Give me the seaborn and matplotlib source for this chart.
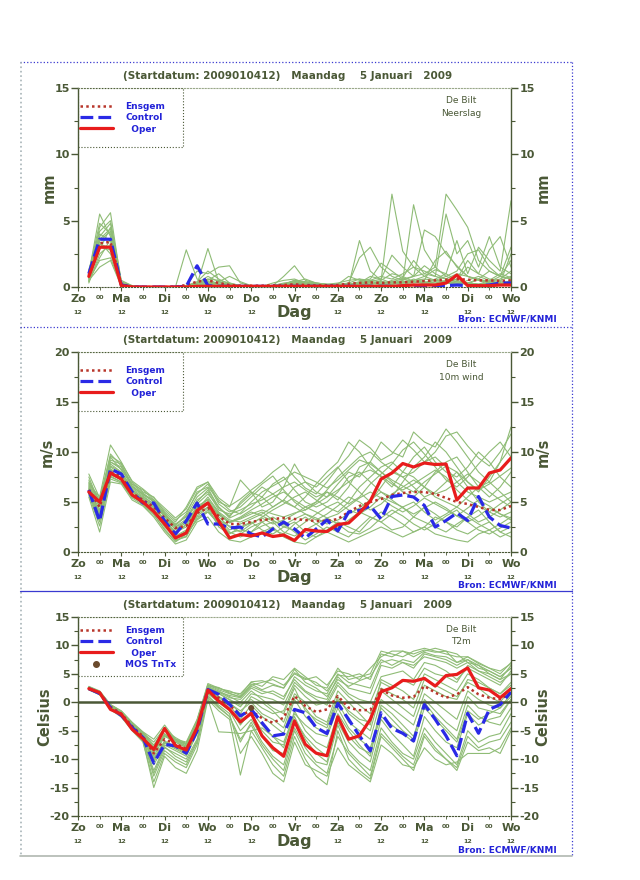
import matplotlib
matplotlib.use('Agg')
import matplotlib.pyplot as plt
import seaborn as sns
import pandas as pd
from matplotlib.lines import Line2D
from matplotlib.patches import Rectangle
from matplotlib.ticker import MultipleLocator, FixedLocator

# ---------------- data ----------------
hours = list(range(6, 241, 6))
day_hours = list(range(0, 241, 24))
day_names = ['Zo', 'Ma', 'Di', 'Wo', 'Do', 'Vr', 'Za', 'Zo', 'Ma', 'Di', 'Wo']
noon_hours = [0, 24, 48, 72, 96, 144, 168, 192, 216, 240]
night_hours = list(range(12, 240, 24))
night_label = '00'
noon_label = '12'

title_text = '(Startdatum: 2009010412)   Maandag    5 Januari   2009'
station = 'De Bilt'
source_text = 'Bron: ECMWF/KNMI'
x_label = 'Dag'

# Precipitation (mm)
precip_oper = [0.8, 3.0, 3.0, 0.1, 0, 0, 0, 0, 0, 0,
               0.05, 0.05, 0.05, 0.05, 0.05, 0.05, 0.05, 0.05, 0.05, 0.05,
               0.05, 0.05, 0.05, 0.05, 0.05, 0.05, 0.05, 0.05, 0.05, 0.1,
               0.15, 0.15, 0.15, 0.3, 0.9, 0.1, 0.1, 0.1, 0.15, 0.15]
precip_control = [1.0, 3.6, 3.6, 0.15, 0, 0, 0, 0, 0, 0.05,
                  1.6, 0.1, 0.05, 0.05, 0.05, 0.05, 0.05, 0.05, 0.05, 0.05,
                  0.05, 0.05, 0.05, 0.05, 0.05, 0.05, 0.05, 0.05, 0.05, 0.05,
                  0.1, 0.1, 0.1, 0.1, 0.15, 0.1, 0.1, 0.15, 0.3, 0.3]
precip_ensgem = [0.9, 3.3, 3.4, 0.2, 0.02, 0, 0, 0, 0.02, 0.15,
                 0.4, 0.5, 0.3, 0.15, 0.1, 0.1, 0.1, 0.12, 0.15, 0.2,
                 0.15, 0.12, 0.12, 0.15, 0.25, 0.3, 0.35, 0.3, 0.35, 0.35,
                 0.4, 0.45, 0.5, 0.55, 0.6, 0.55, 0.5, 0.5, 0.45, 0.5]
precip_members = [
    [0.6, 4.5, 5.6, 0.3, 0, 0, 0, 0, 0, 0.1, 0.2, 2.9, 0.4, 0.2, 0.1, 0.05, 0.05, 0.05, 0.05, 0.1,
     0.1, 0.1, 0.1, 0.1, 0.1, 3.5, 1.2, 0.5, 7.0, 2.7, 1.5, 0.8, 0.5, 0.4, 0.3, 0.2, 0.6, 0.3, 0.2, 0.5],
    [1.0, 5.5, 3.8, 0.2, 0, 0, 0, 0, 0, 2.8, 0.6, 0.3, 0.2, 0.1, 0.1, 0.05, 0.05, 0.3, 0.5, 0.6,
     0.3, 0.2, 0.1, 0.2, 0.3, 2.2, 3.0, 1.5, 0.8, 0.5, 6.2, 2.8, 1.5, 0.8, 0.5, 0.3, 0.2, 0.1, 0.3, 2.5],
    [0.3, 2.5, 3.2, 0.1, 0, 0, 0, 0, 0, 0.1, 1.2, 1.0, 1.5, 1.6, 0.3, 0.1, 0.1, 0.1, 0.8, 1.6,
     0.5, 0.3, 0.2, 0.2, 0.8, 0.5, 0.4, 0.6, 2.4, 1.5, 0.8, 4.3, 3.8, 2.5, 1.6, 0.8, 0.5, 0.3, 0.2, 0.4],
    [0.8, 3.8, 4.8, 0.3, 0, 0, 0, 0, 0, 0.05, 0.3, 0.8, 0.4, 0.1, 0.05, 0.05, 0.05, 0.1, 0.2, 0.5,
     0.4, 0.2, 0.1, 0.1, 0.1, 0.2, 0.2, 0.3, 0.4, 0.6, 0.8, 1.0, 1.5, 7.0, 5.8, 4.5, 2.0, 1.2, 0.8, 0.6],
    [0.5, 2.0, 2.2, 0.1, 0, 0, 0, 0, 0, 0, 0.05, 0.1, 0.05, 0.05, 0.05, 0.05, 0.05, 0.05, 0.1, 0.1,
     0.1, 0.05, 0.05, 0.1, 0.2, 0.4, 0.6, 1.8, 1.2, 0.6, 0.4, 0.3, 0.6, 1.0, 3.5, 1.0, 3.0, 2.0, 1.2, 6.5],
    [1.2, 3.5, 4.2, 0.2, 0, 0, 0, 0, 0, 0.1, 0.2, 0.5, 1.0, 0.3, 0.1, 0.05, 0.1, 0.1, 0.2, 0.3,
     0.2, 0.2, 0.2, 0.3, 0.5, 0.6, 0.3, 0.2, 0.5, 0.7, 2.0, 1.0, 0.8, 5.5, 2.5, 3.5, 1.5, 3.8, 1.5, 1.0],
    [0.4, 3.0, 2.8, 0.2, 0, 0, 0, 0, 0, 0.05, 0.3, 0.6, 0.2, 0.1, 0.05, 0.05, 0.05, 0.1, 0.3, 0.4,
     0.3, 0.2, 0.1, 0.1, 0.2, 0.3, 0.8, 0.6, 0.3, 0.3, 0.5, 0.8, 1.3, 1.0, 0.5, 1.5, 1.0, 2.8, 3.8, 1.5],
    [0.9, 4.0, 3.5, 0.1, 0, 0, 0, 0, 0, 0, 0.1, 0.3, 0.1, 0.05, 0.05, 0.05, 0.05, 0.05, 0.1, 0.2,
     0.1, 0.1, 0.05, 0.1, 0.1, 0.2, 0.1, 0.2, 0.2, 0.4, 0.3, 0.5, 2.0, 2.7, 1.5, 0.8, 0.6, 0.4, 0.8, 3.0],
    [0.7, 2.8, 4.5, 0.4, 0.1, 0, 0, 0, 0, 0, 0.1, 0.4, 0.2, 0.1, 0.05, 0.05, 0.05, 0.05, 0.1, 0.2,
     0.2, 0.1, 0.1, 0.1, 0.1, 0.1, 0.2, 0.4, 0.3, 0.2, 0.1, 0.3, 0.2, 0.3, 0.6, 2.0, 1.0, 0.6, 0.5, 0.8],
    [0.6, 3.4, 2.5, 0.1, 0, 0, 0, 0, 0, 0, 0.1, 0.2, 0.4, 0.8, 0.4, 0.1, 0.05, 0.05, 0.1, 0.3,
     0.4, 0.3, 0.2, 0.1, 0.1, 0.1, 0.1, 0.1, 0.2, 0.3, 0.2, 0.2, 0.4, 0.3, 0.2, 0.5, 0.8, 0.5, 0.3, 0.4],
    [0.5, 1.5, 2.0, 0.05, 0, 0, 0, 0, 0, 0, 0, 0.05, 0.05, 0, 0, 0, 0, 0.05, 0.1, 0.2,
     0.1, 0.05, 0.05, 0.05, 0.05, 0.1, 0.1, 0.1, 0.1, 0.1, 0.1, 0.1, 0.2, 0.3, 0.2, 0.3, 0.2, 0.3, 0.2, 0.3],
    [1.3, 4.2, 5.0, 0.5, 0.1, 0, 0, 0, 0, 0.1, 0.3, 0.6, 0.5, 0.3, 0.1, 0.05, 0.05, 0.1, 0.2, 0.3,
     0.2, 0.1, 0.1, 0.1, 0.2, 0.3, 0.4, 0.3, 0.2, 0.4, 0.5, 0.6, 0.5, 0.4, 0.3, 0.3, 0.2, 0.3, 0.4, 0.3],
    [0.7, 3.2, 3.0, 0.2, 0, 0, 0, 0, 0, 0, 0.05, 0.2, 0.3, 0.2, 0.05, 0.05, 0.05, 0.1, 0.2, 0.5,
     0.3, 0.2, 0.1, 0.1, 0.3, 0.6, 0.5, 0.8, 0.6, 1.0, 1.5, 1.2, 0.8, 0.6, 1.0, 0.8, 0.5, 0.4, 0.6, 1.2],
    [1.1, 4.8, 4.0, 0.3, 0.05, 0, 0, 0, 0, 0.1, 0.4, 1.2, 0.6, 0.2, 0.1, 0.05, 0.05, 0.1, 0.2, 0.4,
     0.6, 0.3, 0.2, 0.2, 0.2, 0.3, 0.2, 0.5, 1.0, 0.8, 0.4, 0.3, 0.5, 0.8, 1.2, 2.5, 2.8, 1.5, 0.8, 0.6],
    [0.4, 2.2, 3.6, 0.2, 0, 0, 0, 0, 0, 0, 0.1, 0.2, 0.1, 0.05, 0.05, 0.05, 0.05, 0.05, 0.1, 0.1,
     0.1, 0.1, 0.05, 0.1, 0.2, 0.3, 0.5, 0.4, 0.3, 0.5, 0.8, 1.6, 1.0, 0.6, 0.4, 0.3, 0.6, 1.2, 0.8, 2.0],
    [0.9, 3.6, 4.4, 0.3, 0, 0, 0, 0, 0, 0.05, 0.2, 0.4, 0.2, 0.1, 0.05, 0.05, 0.05, 0.1, 0.2, 0.3,
     0.2, 0.1, 0.1, 0.1, 0.1, 0.2, 0.3, 0.2, 0.4, 0.3, 0.6, 0.4, 0.3, 0.5, 0.4, 0.3, 0.2, 0.5, 1.0, 0.7],
]

# 10 m wind (m/s)
wind_oper = [6.0, 5.0, 7.9, 7.3, 5.7, 5.0, 4.05, 2.8, 1.4, 1.9,
             4.15, 4.9, 3.1, 1.4, 1.75, 1.6, 1.9, 1.55, 1.7, 1.15,
             2.25, 2.1, 2.05, 2.75, 2.9, 3.9, 5.1, 7.3, 7.9, 8.85,
             8.5, 8.9, 8.75, 8.8, 5.2, 6.4, 6.4, 7.9, 8.2, 9.4]
wind_control = [6.2, 3.1, 8.3, 7.8, 6.0, 4.9, 4.9, 3.1, 1.8, 3.1,
                4.9, 2.8, 2.8, 2.4, 2.5, 1.8, 1.5, 2.3, 3.0, 2.3,
                1.4, 2.3, 3.2, 2.1, 4.0, 4.15, 4.6, 3.3, 5.55, 5.7,
                5.5, 4.65, 2.5, 3.15, 3.9, 3.15, 5.55, 3.5, 2.65, 2.4]
wind_ensgem = [6.2, 4.5, 8.0, 7.6, 5.9, 5.2, 4.5, 3.4, 2.4, 2.6,
               3.9, 4.4, 3.6, 2.8, 2.8, 3.0, 3.2, 3.3, 3.4, 3.3,
               3.2, 3.1, 3.1, 3.3, 4.0, 4.6, 5.0, 5.3, 5.7, 5.9,
               6.0, 6.0, 5.8, 5.4, 5.0, 4.8, 4.5, 4.2, 4.2, 4.6]
wind_members = [
    [6.5, 4.5, 8.5, 7.8, 6.2, 5.5, 4.8, 3.5, 2.5, 3.0, 4.5, 5.0, 3.8, 3.0, 3.5, 4.2, 4.8, 5.5, 6.0, 5.2,
     4.5, 5.0, 6.2, 7.5, 8.5, 9.5, 10.0, 9.0, 8.2, 7.5, 8.0, 9.0, 9.5, 8.5, 7.0, 6.0, 5.5, 5.0, 5.5, 6.0],
    [5.8, 3.0, 7.5, 7.0, 5.5, 5.0, 4.0, 2.5, 1.5, 2.0, 3.8, 4.5, 2.5, 1.8, 2.5, 3.0, 2.2, 1.8, 2.5, 3.0,
     2.0, 1.5, 2.2, 3.0, 2.5, 2.0, 3.2, 4.0, 3.5, 2.8, 2.0, 2.5, 3.5, 3.0, 2.2, 1.8, 2.5, 3.0, 2.0, 2.5],
    [7.0, 5.2, 9.0, 8.5, 6.5, 5.8, 5.0, 3.8, 2.8, 3.5, 5.0, 6.2, 4.5, 3.5, 5.0, 6.0, 5.5, 4.5, 5.2, 6.5,
     7.0, 6.0, 5.5, 6.8, 8.0, 7.5, 9.0, 11.0, 10.0, 9.5, 12.0, 11.0, 10.5, 12.3, 11.0, 9.5, 8.0, 7.0, 9.0, 12.5],
    [6.0, 3.5, 8.0, 7.5, 5.8, 5.0, 4.2, 3.0, 1.2, 1.5, 3.5, 4.0, 3.0, 2.0, 1.5, 2.0, 3.0, 3.5, 2.8, 2.0,
     1.2, 1.8, 2.5, 2.0, 1.5, 2.5, 3.5, 3.0, 2.2, 2.5, 3.5, 4.5, 3.8, 3.0, 2.5, 3.5, 4.2, 3.0, 2.0, 1.5],
    [6.8, 5.5, 10.7, 9.0, 7.0, 6.0, 5.5, 4.0, 3.0, 4.5, 6.5, 7.0, 5.0, 4.5, 7.2, 6.0, 4.5, 5.0, 6.5, 8.8,
     7.0, 6.5, 7.5, 8.5, 7.0, 6.0, 5.0, 6.5, 8.0, 7.5, 6.5, 5.5, 6.0, 7.0, 8.0, 6.5, 5.0, 4.0, 3.5, 4.0],
    [6.2, 4.0, 7.8, 7.2, 6.0, 5.2, 4.5, 3.2, 2.0, 2.5, 4.2, 5.5, 4.0, 3.2, 3.0, 3.5, 4.0, 3.2, 2.5, 2.2,
     3.0, 3.8, 4.5, 4.0, 5.0, 6.5, 7.5, 8.5, 9.0, 8.0, 7.5, 6.5, 5.5, 5.0, 4.5, 5.5, 6.5, 7.0, 6.0, 5.0],
    [5.5, 2.0, 7.0, 6.8, 5.2, 4.6, 3.5, 2.0, 0.8, 1.2, 3.0, 3.5, 2.0, 1.2, 1.0, 1.5, 2.0, 2.5, 1.5, 1.0,
     0.8, 1.5, 2.0, 1.5, 1.0, 1.5, 2.0, 2.5, 2.0, 1.5, 2.0, 2.5, 1.8, 1.5, 1.2, 1.0, 1.8, 2.2, 1.5, 2.0],
    [7.5, 4.8, 9.5, 8.2, 6.8, 6.2, 5.2, 4.2, 3.2, 4.0, 5.8, 6.8, 4.8, 4.0, 4.5, 5.5, 6.5, 5.8, 5.0, 4.5,
     5.5, 6.8, 8.0, 9.0, 11.0, 10.0, 8.5, 7.5, 6.5, 8.0, 9.5, 10.5, 9.0, 8.0, 7.5, 8.5, 10.0, 9.0, 7.5, 6.5],
    [6.3, 3.8, 8.2, 7.8, 6.0, 5.4, 4.6, 3.0, 1.8, 2.8, 4.6, 5.2, 3.5, 2.5, 2.0, 2.8, 3.5, 4.2, 4.8, 5.5,
     6.0, 5.2, 4.5, 5.0, 4.2, 3.8, 4.5, 5.5, 5.0, 4.5, 5.0, 4.0, 3.2, 3.8, 4.5, 3.8, 3.0, 3.5, 4.2, 5.0],
    [6.6, 4.6, 8.8, 8.0, 6.4, 5.6, 4.8, 3.6, 2.2, 3.2, 5.2, 6.0, 4.2, 3.8, 4.2, 4.8, 5.2, 5.8, 6.5, 7.0,
     6.2, 5.5, 6.0, 5.2, 6.5, 8.5, 9.0, 8.0, 7.0, 6.0, 5.5, 6.5, 8.0, 9.0, 9.5, 8.0, 6.5, 5.5, 6.5, 8.0],
    [5.9, 3.2, 7.6, 7.0, 5.6, 4.8, 3.8, 2.2, 1.0, 1.8, 3.2, 4.0, 2.8, 1.5, 1.8, 2.5, 3.0, 2.2, 1.8, 2.8,
     3.5, 2.8, 2.0, 2.5, 3.2, 4.0, 3.5, 3.0, 3.8, 4.5, 3.5, 3.0, 2.5, 2.0, 2.8, 3.5, 2.8, 2.2, 2.8, 3.5],
    [7.2, 5.0, 9.2, 8.8, 6.6, 5.8, 5.2, 3.9, 2.6, 3.8, 6.0, 6.5, 5.2, 4.2, 3.8, 4.5, 5.5, 6.8, 7.5, 6.2,
     5.0, 4.5, 5.0, 6.0, 7.5, 8.0, 7.0, 6.0, 5.5, 7.0, 8.5, 9.5, 11.0, 10.0, 8.5, 7.0, 6.0, 7.5, 9.0, 10.5],
    [6.4, 4.2, 8.6, 8.0, 6.3, 5.3, 4.4, 3.3, 2.3, 2.9, 4.4, 5.3, 3.9, 3.0, 3.3, 3.8, 4.2, 3.8, 3.5, 3.9,
     4.2, 4.8, 5.5, 6.2, 7.0, 7.8, 8.2, 7.6, 6.8, 6.2, 6.8, 7.5, 8.2, 7.5, 6.2, 5.2, 4.6, 4.0, 4.8, 5.5],
    [6.1, 3.6, 7.9, 7.4, 5.8, 5.1, 4.3, 2.8, 1.6, 2.2, 3.9, 4.8, 3.3, 2.2, 2.8, 3.3, 3.8, 4.5, 5.2, 4.5,
     3.8, 3.2, 3.8, 4.6, 5.5, 5.0, 4.2, 4.8, 5.8, 6.5, 7.2, 6.5, 5.8, 6.2, 7.0, 7.8, 7.0, 6.0, 5.2, 4.5],
    [6.9, 5.0, 9.8, 8.6, 6.8, 5.9, 5.0, 3.7, 2.7, 3.6, 5.5, 6.4, 4.4, 3.6, 4.8, 5.8, 6.8, 7.6, 6.2, 5.0,
     4.2, 5.0, 6.0, 5.5, 4.8, 5.5, 6.8, 7.8, 8.8, 10.2, 11.0, 9.8, 8.5, 7.2, 6.5, 7.5, 8.8, 10.0, 11.0, 9.5],
    [5.7, 2.6, 7.3, 6.9, 5.4, 4.7, 3.7, 2.3, 1.1, 1.6, 3.3, 4.2, 2.7, 1.9, 2.2, 2.0, 2.6, 3.0, 2.0, 1.6,
     2.2, 2.8, 3.4, 2.8, 2.0, 1.8, 2.4, 3.4, 4.2, 3.6, 2.8, 2.2, 2.8, 3.6, 4.2, 3.0, 2.2, 1.8, 2.4, 3.0],
    [6.7, 4.9, 9.0, 8.3, 6.6, 5.7, 5.1, 3.7, 2.5, 3.3, 4.8, 5.8, 4.5, 3.4, 3.9, 5.0, 6.0, 6.6, 7.2, 8.0,
     7.5, 7.0, 6.4, 7.2, 8.2, 9.2, 8.8, 8.0, 7.2, 6.6, 6.0, 7.0, 7.8, 8.6, 8.0, 7.0, 6.2, 6.8, 7.6, 8.4],
    [6.0, 3.3, 7.7, 7.3, 5.7, 5.0, 4.1, 2.7, 1.4, 2.1, 3.6, 4.4, 3.2, 2.6, 2.4, 2.9, 3.4, 2.8, 3.2, 3.8,
     4.5, 4.0, 3.4, 3.8, 4.6, 5.4, 6.0, 5.4, 4.6, 4.0, 4.6, 5.4, 4.8, 4.2, 3.6, 4.4, 5.2, 4.6, 3.8, 3.2],
    [7.8, 5.4, 9.6, 8.9, 7.1, 6.3, 5.4, 4.4, 3.4, 4.3, 6.3, 7.0, 5.4, 4.6, 5.3, 6.2, 7.0, 8.0, 8.8, 7.5,
     6.4, 5.8, 7.0, 8.4, 9.6, 11.2, 10.4, 9.2, 9.8, 11.2, 10.2, 9.0, 10.0, 11.6, 12.0, 10.6, 9.4, 8.6, 10.0, 11.8],
    [6.3, 3.9, 8.3, 7.7, 6.1, 5.3, 4.7, 3.1, 1.9, 2.7, 4.3, 5.0, 3.7, 2.9, 3.4, 4.0, 3.6, 3.1, 2.7, 3.3,
     3.8, 3.4, 2.8, 3.2, 3.8, 4.4, 5.2, 6.0, 5.2, 4.4, 3.8, 4.4, 5.0, 4.4, 3.6, 3.0, 3.6, 4.4, 3.8, 3.4],
]

# 2 m temperature (Celsius)
t2m_oper = [2.4, 1.7, -1.25, -2.1, -4.75, -6.4, -8.3, -4.6, -7.6, -8.4,
            -4.45, 2.15, 0.2, -1.25, -3.45, -1.95, -5.9, -8.0, -9.5, -3.3,
            -7.4, -8.95, -9.4, -2.55, -6.5, -5.9, -3.0, 1.85, 2.55, 3.85,
            3.7, 4.2, 2.85, 4.7, 4.9, 6.05, 2.55, 2.15, 0.8, 2.4]
t2m_control = [2.4, 1.55, -0.95, -2.3, -4.45, -6.2, -10.7, -7.4, -7.65, -8.95,
               -5.05, 2.25, 1.4, -0.35, -2.4, -1.25, -3.6, -5.9, -5.6, -1.25,
               -1.85, -4.45, -5.5, -0.2, -3.0, -5.9, -8.55, -1.85, -4.6, -5.45,
               -6.8, -0.4, -3.0, -5.9, -9.4, -1.95, -5.45, -1.25, -0.4, 1.8]
t2m_ensgem = [2.4, 1.6, -0.8, -2.0, -4.2, -6.0, -9.0, -6.5, -7.3, -8.2,
              -4.8, 1.8, 0.8, -0.5, -2.3, -1.5, -2.8, -3.6, -2.7, 1.1,
              -0.65, -1.7, -1.25, 1.1, -0.95, -1.4, -1.35, 2.25, 1.2, 0.8,
              0.95, 2.85, 1.7, 0.8, 1.4, 2.65, 1.4, 0.8, 0.5, 1.7]
t2m_members = [
    [2.8, 2.0, -0.4, -1.5, -3.5, -5.2, -6.5, -4.0, -6.5, -7.0, -3.0, 3.3, 2.5, 1.8, 1.5, 3.5, 2.8, 4.5, 4.0, 6.0,
     4.5, 3.0, 2.5, 6.0, 4.0, 4.5, 5.0, 9.0, 8.5, 8.0, 9.0, 9.5, 9.0, 8.5, 8.0, 8.0, 7.0, 6.0, 5.0, 7.0],
    [2.2, 1.4, -1.2, -2.5, -4.8, -6.8, -15.0, -9.5, -11.5, -12.5, -8.5, 0.5, -1.5, -3.0, -12.8, -5.0, -8.0, -11.0, -13.0, -6.0,
     -10.0, -13.0, -14.5, -5.0, -10.0, -12.0, -13.5, -6.0, -8.0, -10.0, -12.0, -6.0, -8.5, -10.0, -12.0, -7.0, -8.5, -8.0, -9.0, -5.0],
    [2.5, 1.6, -0.8, -2.0, -4.0, -5.8, -9.5, -6.0, -7.0, -8.0, -4.0, 2.5, 1.5, 0.5, -0.5, 0.5, -1.0, -2.0, -1.5, 3.0,
     1.0, -0.5, 0.0, 3.5, 1.5, 0.5, 0.0, 4.5, 5.0, 5.5, 4.0, 7.0, 6.5, 5.5, 4.0, 6.0, 5.0, 4.0, 3.0, 5.5],
    [2.3, 1.5, -1.0, -2.2, -4.5, -6.5, -12.5, -8.0, -9.0, -10.0, -6.5, 1.5, 0.0, -1.5, -5.0, -3.0, -6.0, -8.5, -9.0, -3.0,
     -6.0, -8.0, -9.5, -3.5, -7.0, -9.0, -10.5, -3.0, -5.5, -7.5, -9.5, -2.5, -5.0, -7.0, -8.0, -2.0, -4.0, -3.0, -2.5, 0.5],
    [2.6, 1.7, -0.6, -1.8, -3.8, -5.5, -8.0, -5.0, -6.5, -7.5, -3.5, 2.8, 2.0, 1.0, 0.0, 2.0, 0.5, -1.0, -2.0, 2.5,
     -1.5, -3.0, -4.0, 1.0, -2.0, -3.5, -5.0, 2.0, 0.5, -1.0, -2.5, 3.0, 2.0, 1.0, 0.5, 4.0, 3.5, 2.5, 1.5, 3.5],
    [2.4, 1.5, -0.9, -2.3, -4.4, -6.0, -10.0, -7.0, -8.0, -9.0, -5.0, 0.5, -5.2, -5.3, -5.5, -5.0, -4.5, -6.0, -7.0, -2.0,
     -4.0, -5.5, -6.0, -1.0, -4.5, -6.5, -8.0, -2.5, -4.0, -5.5, -7.0, -1.0, -3.0, -5.0, -7.0, -1.5, -3.0, -2.0, -1.0, 1.0],
    [2.7, 1.9, -0.5, -1.6, -3.6, -5.4, -7.0, -4.5, -6.8, -7.2, -3.2, 3.0, 2.2, 1.5, 1.0, 3.0, 3.5, 4.0, 3.0, 5.0,
     4.0, 4.5, 3.0, 5.5, 5.0, 4.0, 6.0, 8.0, 9.0, 9.0, 8.0, 9.0, 9.5, 9.0, 7.0, 7.5, 6.0, 5.5, 4.5, 6.0],
    [2.3, 1.4, -1.1, -2.4, -4.6, -6.6, -13.0, -8.5, -10.0, -11.0, -7.0, 1.0, -0.5, -2.0, -9.0, -6.0, -9.0, -12.5, -14.0, -7.0,
     -11.0, -12.0, -13.0, -8.0, -11.0, -12.5, -14.0, -7.5, -9.0, -11.0, -11.5, -8.0, -10.0, -11.0, -10.5, -9.0, -9.0, -9.0, -8.0, -4.5],
    [2.5, 1.7, -0.7, -1.9, -4.0, -5.6, -9.0, -5.5, -7.5, -8.5, -4.5, 2.5, 1.0, 0.0, -2.0, 1.0, 0.0, -1.5, -3.5, 1.5,
     0.0, -2.5, -3.5, 2.0, 0.0, -2.0, -4.0, 4.0, 3.0, 2.0, 0.5, 5.0, 4.0, 3.0, 2.0, 5.0, 4.0, 2.5, 1.5, 3.0],
    [2.4, 1.6, -0.9, -2.1, -4.3, -6.1, -11.0, -7.5, -8.5, -9.5, -5.5, 1.8, 0.5, -1.0, -4.0, -1.5, -4.0, -6.0, -8.0, -1.5,
     -5.0, -7.0, -8.0, -2.0, -5.0, -7.5, -9.5, -1.0, -3.0, -5.0, -6.5, 0.5, -1.5, -3.5, -5.0, 1.0, -1.0, -1.5, -2.0, 0.5],
    [2.6, 1.8, -0.6, -1.7, -3.9, -5.7, -8.5, -6.0, -6.5, -7.8, -4.2, 2.6, 1.8, 0.8, 0.5, 2.5, 1.5, 2.0, 1.0, 4.0,
     2.0, 1.0, 0.5, 4.5, 2.5, 2.0, 1.5, 6.5, 6.0, 7.0, 6.5, 8.0, 7.5, 7.0, 6.0, 7.0, 5.5, 5.0, 4.0, 6.5],
    [2.2, 1.3, -1.3, -2.6, -5.0, -7.0, -14.0, -9.0, -10.5, -11.5, -7.5, 0.8, -1.0, -2.5, -7.0, -3.5, -7.0, -9.5, -11.0, -4.5,
     -8.0, -10.5, -11.0, -4.0, -8.5, -10.5, -12.0, -4.5, -7.0, -9.0, -10.0, -4.5, -7.0, -9.0, -11.0, -5.0, -7.0, -6.0, -5.5, -2.0],
    [2.5, 1.6, -0.7, -1.9, -4.1, -5.9, -8.8, -5.8, -7.0, -7.9, -4.3, 2.4, 1.8, 1.2, 0.8, 2.8, 2.0, 1.5, 0.5, 4.5,
     3.0, 2.0, 1.5, 5.0, 3.5, 3.0, 2.5, 7.0, 7.5, 7.0, 6.0, 8.5, 8.0, 7.5, 6.5, 7.5, 6.5, 5.5, 4.5, 6.0],
    [2.4, 1.6, -0.8, -2.0, -4.2, -6.0, -9.8, -6.8, -7.8, -8.8, -5.0, 2.0, 0.8, -0.5, -3.0, -0.5, -2.5, -4.0, -5.5, 0.5,
     -2.5, -4.5, -5.5, 0.0, -3.5, -5.0, -6.5, 0.5, -1.0, -2.5, -4.0, 1.5, 0.0, -1.5, -3.0, 2.0, 0.5, -0.5, -1.0, 1.5],
    [2.6, 1.8, -0.5, -1.7, -3.7, -5.3, -7.5, -4.8, -6.2, -7.3, -3.3, 3.1, 2.4, 2.0, 1.2, 3.6, 3.8, 3.2, 2.5, 5.2,
     4.2, 3.5, 2.0, 4.8, 4.5, 5.0, 4.0, 8.5, 8.0, 9.0, 8.5, 9.2, 8.8, 9.0, 8.5, 7.0, 6.5, 5.0, 4.0, 5.0],
    [2.3, 1.5, -1.0, -2.2, -4.6, -6.4, -12.0, -7.8, -9.5, -10.5, -6.8, 1.2, -0.8, -2.5, -6.5, -4.0, -7.5, -10.0, -12.0, -5.0,
     -9.0, -11.0, -12.5, -6.0, -9.0, -11.0, -13.0, -5.5, -7.5, -9.5, -11.0, -5.5, -8.0, -10.0, -11.5, -6.0, -8.0, -7.0, -6.5, -3.5],
    [2.5, 1.7, -0.6, -1.9, -3.9, -5.6, -8.6, -5.6, -6.8, -7.7, -4.0, 2.7, 1.6, 0.4, -0.8, 1.5, 1.0, 0.5, -0.5, 3.5,
     1.8, 0.5, -0.5, 3.0, 1.0, -0.5, -2.0, 3.5, 2.5, 4.0, 3.0, 6.0, 5.0, 4.5, 3.5, 6.5, 5.5, 4.5, 3.5, 5.0],
    [2.4, 1.5, -0.9, -2.2, -4.4, -6.2, -10.5, -7.2, -8.2, -9.2, -5.2, 1.6, 0.2, -1.2, -3.8, -2.0, -5.0, -7.0, -7.5, -2.5,
     -6.5, -9.0, -10.5, -3.0, -6.0, -8.0, -9.0, -0.5, -2.0, -4.0, -6.0, 0.0, -2.5, -4.5, -6.5, -0.5, -2.5, -3.5, -4.0, -1.0],
    [2.7, 1.9, -0.4, -1.6, -3.7, -5.3, -7.8, -4.4, -6.6, -7.4, -3.4, 2.9, 2.6, 1.6, 0.9, 3.2, 2.2, 3.0, 2.5, 5.8,
     3.5, 2.5, 1.0, 4.0, 2.8, 3.8, 4.5, 7.5, 6.5, 7.5, 7.0, 8.8, 8.2, 8.0, 7.0, 8.0, 6.8, 6.0, 5.5, 6.8],
    [2.4, 1.6, -0.8, -2.1, -4.3, -6.1, -10.3, -7.0, -7.8, -8.8, -5.0, 2.1, 1.0, -0.2, -1.5, 0.0, -2.0, -3.0, -4.5, 1.0,
     -1.0, -3.5, -4.5, 0.5, -1.5, -3.0, -3.5, 2.5, 1.5, 0.5, -1.0, 4.0, 3.0, 2.0, 1.0, 3.5, 2.5, 1.0, 0.0, 2.5],
]
mos_hours = [96]
mos_values = [-1.0]

# ---------------- style ----------------
TEXT = '#4a5836'
GREEN = '#8fbc76'
ENS_C = '#b8352a'
CTRL_C = '#2a2ae6'
OPER_C = '#e81c1c'
BLUE_T = '#2222d8'
MOS_C = '#6a4a2c'

sns.set_style('white')
plt.rcParams['font.family'] = ['DejaVu Sans']
plt.rcParams['font.weight'] = 'bold'
plt.rcParams['axes.unicode_minus'] = False

fig = plt.figure(figsize=(6.4, 8.8), dpi=100)

panels = [
    dict(rect=[78 / 640, 1 - 287 / 880, 433 / 640, 199 / 880], members=precip_members,
         ens=precip_ensgem, ctrl=precip_control, oper=precip_oper, ylim=(0, 15),
         ylabel='mm', var='Neerslag', title_y=76, bron_y=319, mos=False, ylab_x=49),
    dict(rect=[78 / 640, 1 - 552 / 880, 433 / 640, 200 / 880], members=wind_members,
         ens=wind_ensgem, ctrl=wind_control, oper=wind_oper, ylim=(0, 20),
         ylabel='m/s', var='10m wind', title_y=340, bron_y=585, mos=False, ylab_x=47),
    dict(rect=[78 / 640, 1 - 816 / 880, 433 / 640, 199 / 880], members=t2m_members,
         ens=t2m_ensgem, ctrl=t2m_control, oper=t2m_oper, ylim=(-20, 15),
         ylabel='Celsius', var='T2m', title_y=605, bron_y=850, mos=True, ylab_x=45),
]

for p in panels:
    ax = fig.add_axes(p['rect'])
    h_px = p['rect'][3] * 880
    rows = []
    for mi, vals in enumerate(p['members']):
        for hh, vv in zip(hours, vals):
            rows.append((mi, hh, vv))
    dfm = pd.DataFrame(rows, columns=['member', 'hour', 'value'])
    sns.lineplot(data=dfm, x='hour', y='value', units='member', estimator=None,
                 color=GREEN, lw=0.8, ax=ax, legend=False, zorder=1)
    if p['mos']:
        ax.axhline(0, color=TEXT, lw=1.8, zorder=2)
    sns.lineplot(x=hours, y=p['ens'], ax=ax, color=ENS_C, lw=1.8,
                 linestyle=(0, (1, 1.3)), zorder=4)
    sns.lineplot(x=hours, y=p['ctrl'], ax=ax, color=CTRL_C, lw=2.3,
                 linestyle=(0, (4, 1.6)), zorder=5)
    sns.lineplot(x=hours, y=p['oper'], ax=ax, color=OPER_C, lw=2.3, zorder=6)
    if p['mos']:
        sns.scatterplot(x=mos_hours, y=mos_values, ax=ax, color=MOS_C, s=18,
                        edgecolor='none', zorder=7)

    ax.set_xlim(0, 240)
    ax.set_ylim(*p['ylim'])
    ax.set_xlabel('')
    ax.set_ylabel('')

    for s in ['left', 'right']:
        ax.spines[s].set_color(TEXT)
        ax.spines[s].set_linewidth(1.0)
    ax.spines['top'].set_color('#9aa88a')
    ax.spines['top'].set_linestyle(':')
    ax.spines['bottom'].set_color(TEXT)
    ax.spines['bottom'].set_linestyle(':')

    ax.yaxis.set_major_locator(MultipleLocator(5))
    ax.yaxis.set_minor_locator(MultipleLocator(2.5))
    ax.tick_params(axis='y', which='both', left=True, right=True, labelleft=True,
                   labelright=True, colors=TEXT, direction='out')
    ax.tick_params(axis='y', which='major', length=5, width=1, labelsize=8, pad=1)
    ax.tick_params(axis='y', which='minor', length=3, width=0.8)
    for lab in ax.get_yticklabels():
        lab.set_fontweight('bold')

    ax.set_xticks(day_hours, labels=day_names)
    ax.xaxis.set_minor_locator(FixedLocator(night_hours))
    ax.set_xticks(night_hours, labels=[night_label] * len(night_hours), minor=True)
    ax.tick_params(axis='x', which='major', length=3, width=0.8, colors=TEXT,
                   labelsize=8, pad=2, direction='out', bottom=True)
    ax.tick_params(axis='x', which='minor', length=2, width=0.6, colors=TEXT,
                   labelsize=4.5, pad=4, direction='out', bottom=True)
    for lab in ax.get_xticklabels():
        lab.set_fontweight('bold')
    for hh in noon_hours:
        ax.text(hh, -25 / h_px, noon_label, transform=ax.get_xaxis_transform(),
                ha='center', va='center', fontsize=4.5, color=TEXT)

    ax.text(0.5, -25 / h_px, x_label, transform=ax.transAxes, ha='center',
            va='center', fontsize=11.5, fontweight='bold', color=TEXT)

    ax.text((p['ylab_x'] - 78) / 433, 0.5, p['ylabel'], transform=ax.transAxes, rotation=90,
            ha='center', va='center', fontsize=10.5, fontweight='bold', color=TEXT)
    ax.text(465 / 433, 0.5, p['ylabel'], transform=ax.transAxes, rotation=90,
            ha='center', va='center', fontsize=10.5, fontweight='bold', color=TEXT)

    ax.text(383 / 433, 1 - 12 / h_px, station, transform=ax.transAxes, ha='center',
            va='center', fontsize=6.5, fontweight='normal', color=TEXT)
    ax.text(383 / 433, 1 - 25 / h_px, p['var'], transform=ax.transAxes, ha='center',
            va='center', fontsize=6.5, fontweight='normal', color=TEXT)

    fig.text(287.5 / 640, 1 - p['title_y'] / 880, title_text, ha='center', va='center',
             fontsize=7.5, fontweight='bold', color=TEXT)
    fig.text(557 / 640, 1 - p['bron_y'] / 880, source_text, ha='right', va='center',
             fontsize=6.5, fontweight='bold', color=BLUE_T)

    box_h = 59 / h_px
    ax.add_patch(Rectangle((0, 1 - box_h), 105 / 433, box_h, transform=ax.transAxes,
                           fill=False, edgecolor=TEXT, lw=0.8, linestyle=':', zorder=8))
    handles = [Line2D([], [], color=ENS_C, lw=1.8, linestyle=(0, (1, 1.3))),
               Line2D([], [], color=CTRL_C, lw=2.3, linestyle=(0, (4, 1.6))),
               Line2D([], [], color=OPER_C, lw=2.3)]
    labels = ['Ensgem', 'Control', '  Oper']
    if p['mos']:
        handles.append(Line2D([], [], color=MOS_C, marker='o', markersize=4, lw=0))
        labels.append('MOS TnTx')
        top_off = 9
    else:
        top_off = 14
    leg = ax.legend(handles, labels, loc='upper left',
                    bbox_to_anchor=(2 / 433, 1 - top_off / h_px), borderaxespad=0,
                    borderpad=0, frameon=False, handlelength=3.6, handletextpad=1.4,
                    labelspacing=0.25, prop={'size': 6.5, 'weight': 'bold'},
                    labelcolor=BLUE_T)
    leg.set_zorder(9)

fig.add_artist(Line2D([20 / 640, 572 / 640], [1 - 62 / 880, 1 - 62 / 880], color='#3a3ad0',
                      lw=0.9, linestyle=':'))
fig.add_artist(Line2D([572 / 640, 572 / 640], [1 - 62 / 880, 1 - 856 / 880], color='#3a3ad0',
                      lw=0.9, linestyle=':'))
fig.add_artist(Line2D([21 / 640, 21 / 640], [1 - 62 / 880, 1 - 856 / 880], color='#a8b4b8',
                      lw=1.2, linestyle=':'))
fig.add_artist(Line2D([20 / 640, 572 / 640], [1 - 856 / 880, 1 - 856 / 880], color='#b0b8b0',
                      lw=1.2))
fig.add_artist(Line2D([20 / 640, 572 / 640], [1 - 327 / 880, 1 - 327 / 880], color='#3a3ad0',
                      lw=0.9, linestyle=':'))
fig.add_artist(Line2D([20 / 640, 572 / 640], [1 - 591 / 880, 1 - 591 / 880], color='#3a3ad0',
                      lw=0.9))

fig.savefig('out.png', dpi=100)
